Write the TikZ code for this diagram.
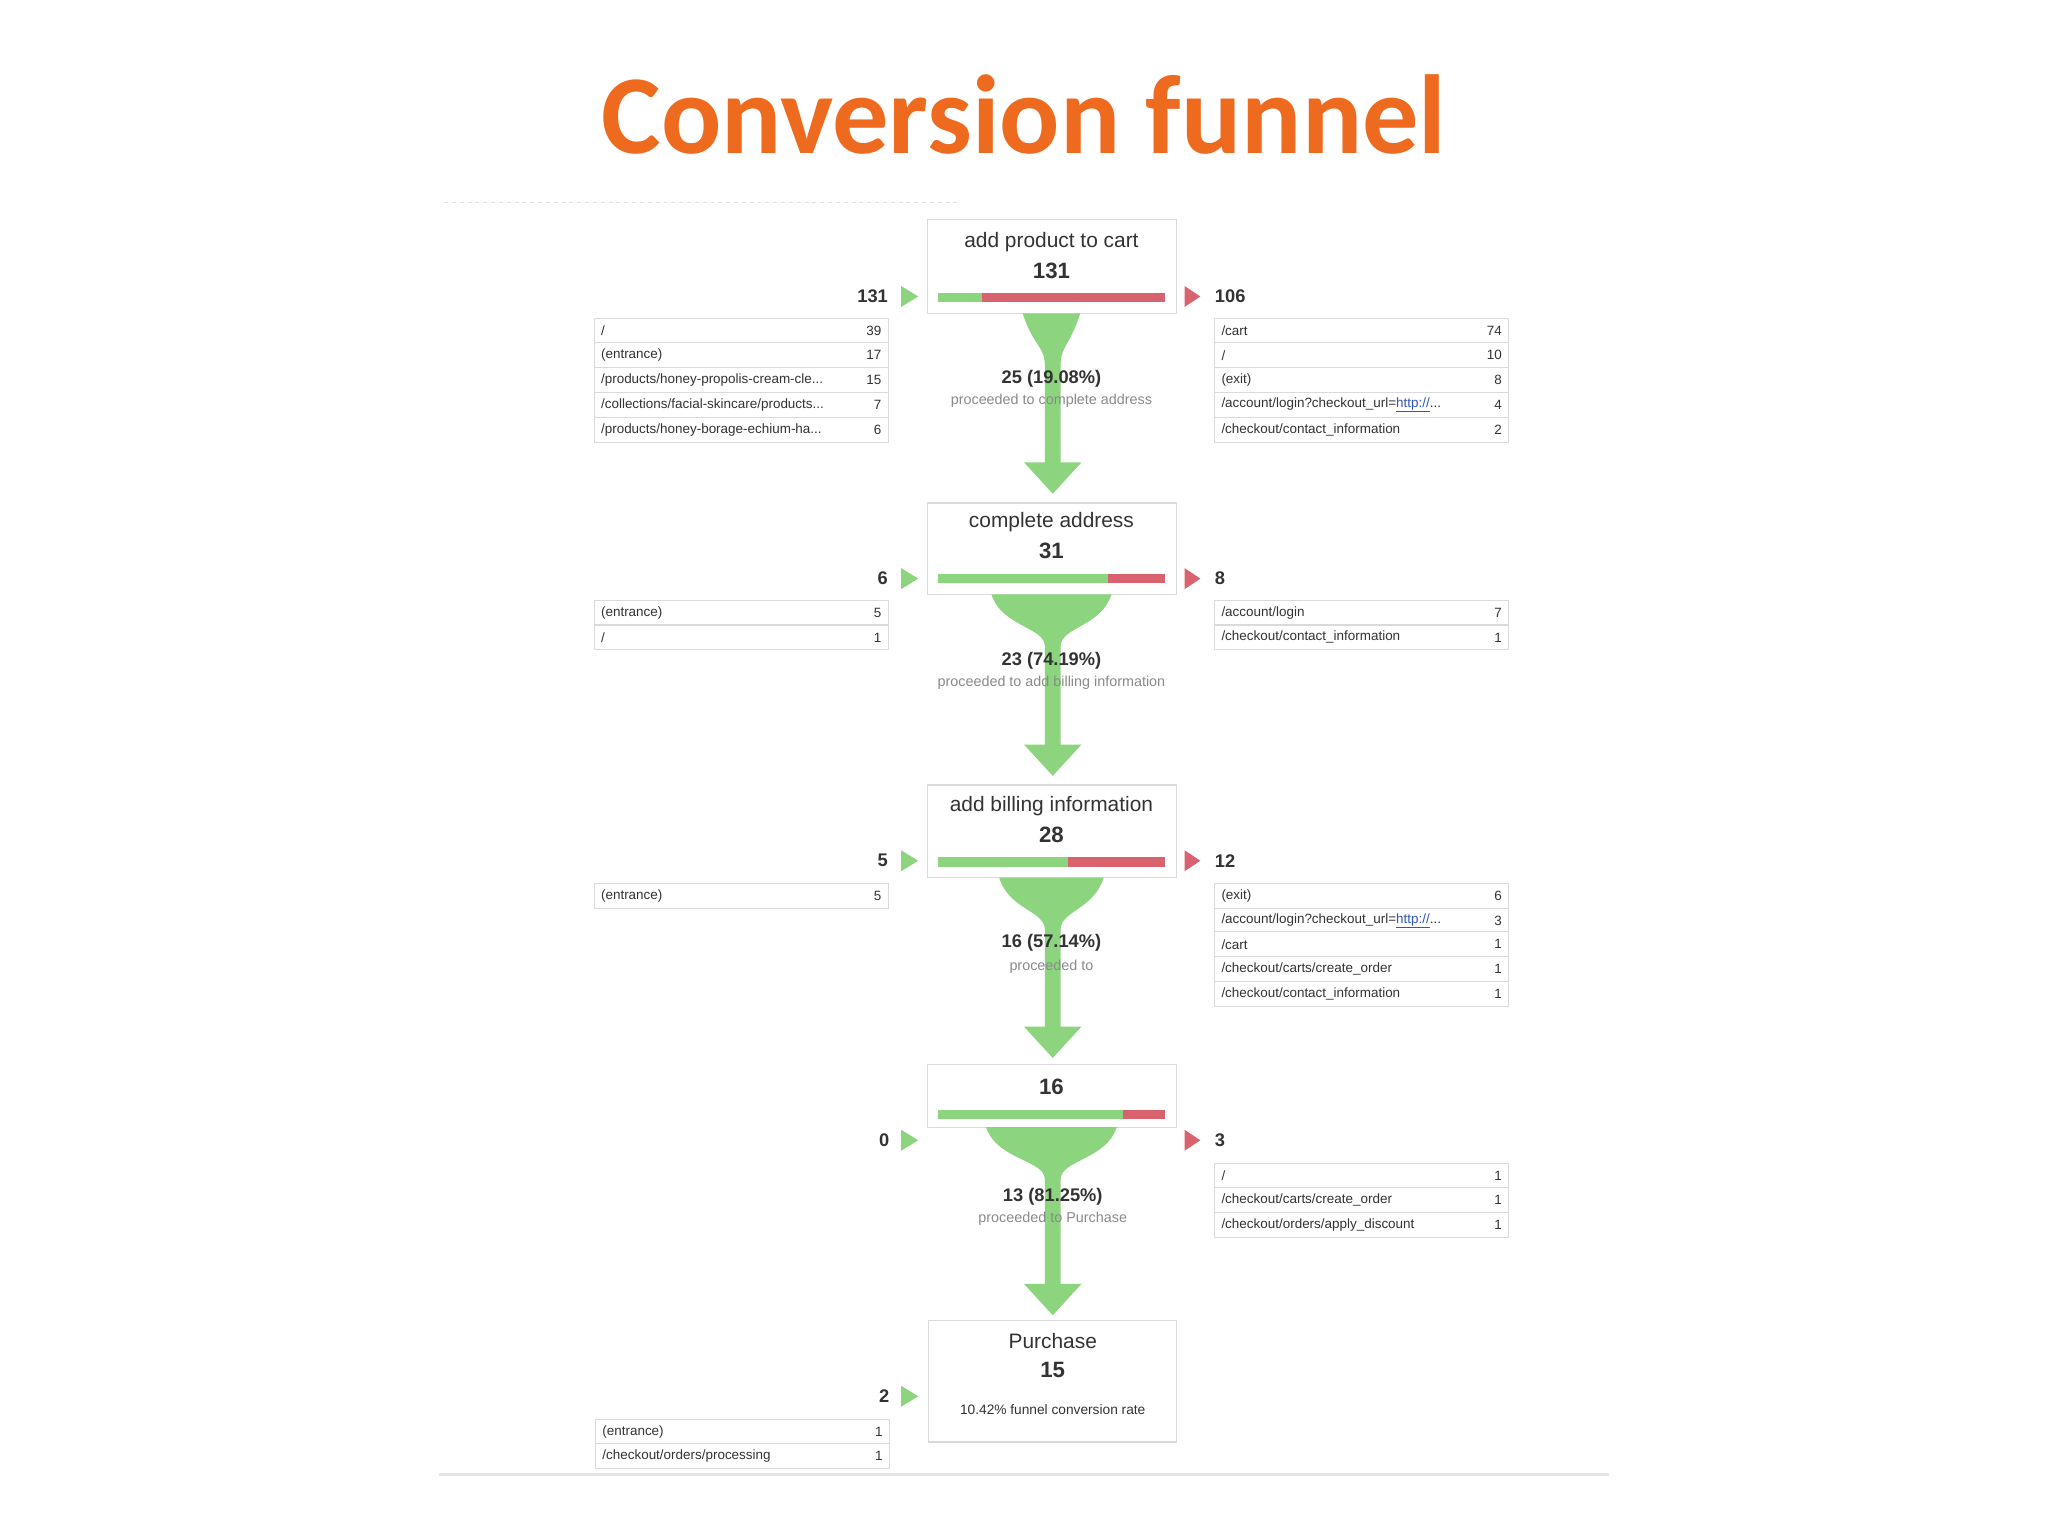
\documentclass[tikz,border=0pt]{standalone}
\usepackage{fontspec}
\setmainfont{Liberation Sans}
\newfontfamily\titlefont{Carlito}
\definecolor{orng}{HTML}{EE6A1F}
\definecolor{fgreen}{HTML}{8DD47E}
\definecolor{fred}{HTML}{D9626F}
\definecolor{bordr}{HTML}{DADADA}
\definecolor{txt}{HTML}{333333}
\definecolor{gtxt}{HTML}{8A8A8A}
\definecolor{lnk}{HTML}{3355BB}
\tikzset{
 tl/.style={inner sep=0pt,font=\fontsize{10.3}{10.3}\selectfont,text=txt},
 stagebox/.style={draw=bordr,fill=white,line width=1pt},
 ttl/.style={inner sep=0pt,font=\fontsize{16}{16}\selectfont,text=txt},
 num/.style={inner sep=0pt,font=\fontsize{17}{17}\selectfont\bfseries,text=txt},
 side/.style={inner sep=0pt,font=\fontsize{14}{14}\selectfont\bfseries,text=txt},
 pct/.style={inner sep=0pt,font=\fontsize{14}{14}\selectfont\bfseries,text=txt},
 sub/.style={inner sep=0pt,font=\fontsize{11}{11}\selectfont,text=gtxt},
}
\newcommand\tabrow[5]{%
 \draw[bordr,fill=white,line width=0.8pt] (#2,#3-9.5) rectangle (#2+225,#3+9.5);
 \node[tl,anchor=west] (#1l) at (#2+5,#3) {#4};
 \node[tl,anchor=east] (#1r) at (#2+220,#3) {#5};}
\newcommand\stagebar[3]{% y, green end x, name
 \fill[fred] (718,#1-3.5) rectangle (892,#1+3.5);
 \fill[fgreen] (718,#1-3.5) rectangle (#2,#1+3.5);
 \coordinate (#3) at (805,#1);}
\newcommand\funnel[4]{% top y, half width, head top y, name
 \fill[fgreen] (805-#2,#1) .. controls (805-#2+8,#1+25) and (800,#1+25) .. (800,#1+40)
  -- (800,#3) -- (784,#3) -- (806,#3+24) -- (828,#3) -- (812,#3) -- (812,#1+40)
  .. controls (812,#1+25) and (805+#2-8,#1+25) .. (805+#2,#1) -- cycle;
 \coordinate (#4) at (806,#3+24);}
\newcommand\gtri[2]{\fill[fgreen] (690,#1-8) -- (703,#1) -- (690,#1+8) -- cycle; \coordinate (#2) at (703,#1);}
\newcommand\rtri[2]{\fill[fred] (907,#1-8) -- (919,#1) -- (907,#1+8) -- cycle; \coordinate (#2) at (919,#1);}
\begin{document}
\begin{tikzpicture}[x=1pt,y=-1pt]
\useasboundingbox[fill=white] (0,0) rectangle (1568,1176);
\node[inner sep=0pt,font=\fontsize{86}{86}\selectfont\titlefont\bfseries,text=orng] (title) at (784,88) {Conversion funnel};
\draw[black!12,line width=0.6pt,dashed] (340,155) -- (735,155);
\draw[black!10,line width=2pt] (336,1129) -- (1232,1129);

% stage 1
\draw[stagebox] (710,168) rectangle (901,240);
\node[ttl] (s1t) at (805,185) {add product to cart};
\node[num] (s1n) at (805,207) {131};
\stagebar{228}{752}{s1b}
\node[side,anchor=east] (s1in) at (680,227) {131}; \gtri{227}{s1g}
\rtri{227}{s1r}\node[side,anchor=west] (s1out) at (930,227) {106};
\funnel{240}{22}{354}{s1f}
\node[pct] (p1) at (805,290) {25 (19.08\%)};
\node[sub] (p1s) at (805,307) {proceeded to complete address};
\tabrow{a1}{455}{253}{/}{39}
\tabrow{a2}{455}{272}{(entrance)}{17}
\tabrow{a3}{455}{291}{/products/honey-propolis-cream-cle...}{15}
\tabrow{a4}{455}{310}{/collections/facial-skincare/products...}{7}
\tabrow{a5}{455}{329}{/products/honey-borage-echium-ha...}{6}
\tabrow{b1}{930}{253}{/cart}{74}
\tabrow{b2}{930}{272}{/}{10}
\tabrow{b3}{930}{291}{(exit)}{8}
\tabrow{b4}{930}{310}{/account/login?checkout\_url=\textcolor{lnk}{\underline{http://}}...}{4}
\tabrow{b5}{930}{329}{/checkout/contact\_information}{2}

% stage 2
\draw[stagebox] (710,385) rectangle (901,455);
\node[ttl] (s2t) at (805,400) {complete address};
\node[num] (s2n) at (805,422) {31};
\stagebar{443}{848}{s2b}
\node[side,anchor=east] (s2in) at (680,443) {6}; \gtri{443}{s2g}
\rtri{443}{s2r}\node[side,anchor=west] (s2out) at (930,443) {8};
\funnel{455}{46}{570}{s2f}
\node[pct] (p2) at (805,506) {23 (74.19\%)};
\node[sub] (p2s) at (805,523) {proceeded to add billing information};
\tabrow{c1}{455}{469}{(entrance)}{5}
\tabrow{c2}{455}{488}{/}{1}
\tabrow{d1}{930}{469}{/account/login}{7}
\tabrow{d2}{930}{488}{/checkout/contact\_information}{1}

% stage 3
\draw[stagebox] (710,601) rectangle (901,672);
\node[ttl] (s3t) at (805,617) {add billing information};
\node[num] (s3n) at (805,639) {28};
\stagebar{660}{818}{s3b}
\node[side,anchor=east] (s3in) at (680,659) {5}; \gtri{659}{s3g}
\rtri{659}{s3r}\node[side,anchor=west] (s3out) at (930,659) {12};
\funnel{672}{40}{786}{s3f}
\node[pct] (p3) at (805,722) {16 (57.14\%)};
\node[sub] (p3s) at (805,740) {proceeded to};
\tabrow{e1}{455}{686}{(entrance)}{5}
\tabrow{f1}{930}{686}{(exit)}{6}
\tabrow{f2}{930}{705}{/account/login?checkout\_url=\textcolor{lnk}{\underline{http://}}...}{3}
\tabrow{f3}{930}{723}{/cart}{1}
\tabrow{f4}{930}{742}{/checkout/carts/create\_order}{1}
\tabrow{f5}{930}{761}{/checkout/contact\_information}{1}

% stage 4
\draw[stagebox] (710,815) rectangle (901,863);
\node[num] (s4n) at (805,832) {16};
\stagebar{853}{860}{s4b}
\node[side,anchor=east] (s4in) at (681,873) {0}; \gtri{873}{s4g}
\rtri{873}{s4r}\node[side,anchor=west] (s4out) at (930,873) {3};
\funnel{863}{50}{983}{s4f}
\node[pct] (p4) at (806,916) {13 (81.25\%)};
\node[sub] (p4s) at (806,933) {proceeded to Purchase};
\tabrow{g1}{930}{900}{/}{1}
\tabrow{g2}{930}{919}{/checkout/carts/create\_order}{1}
\tabrow{g3}{930}{938}{/checkout/orders/apply\_discount}{1}

% stage 5
\draw[stagebox] (711,1011) rectangle (901,1104);
\node[ttl] (s5t) at (806,1027) {Purchase};
\node[num] (s5n) at (806,1049) {15};
\node[sub,text=txt,font=\fontsize{10.5}{10.5}\selectfont] (s5c) at (806,1079) {10.42\% funnel conversion rate};
\node[side,anchor=east] (s5in) at (681,1069) {2}; \gtri{1069}{s5g}
\tabrow{h1}{456}{1096}{(entrance)}{1}
\tabrow{h2}{456}{1115}{/checkout/orders/processing}{1}
\end{tikzpicture}
\end{document}
